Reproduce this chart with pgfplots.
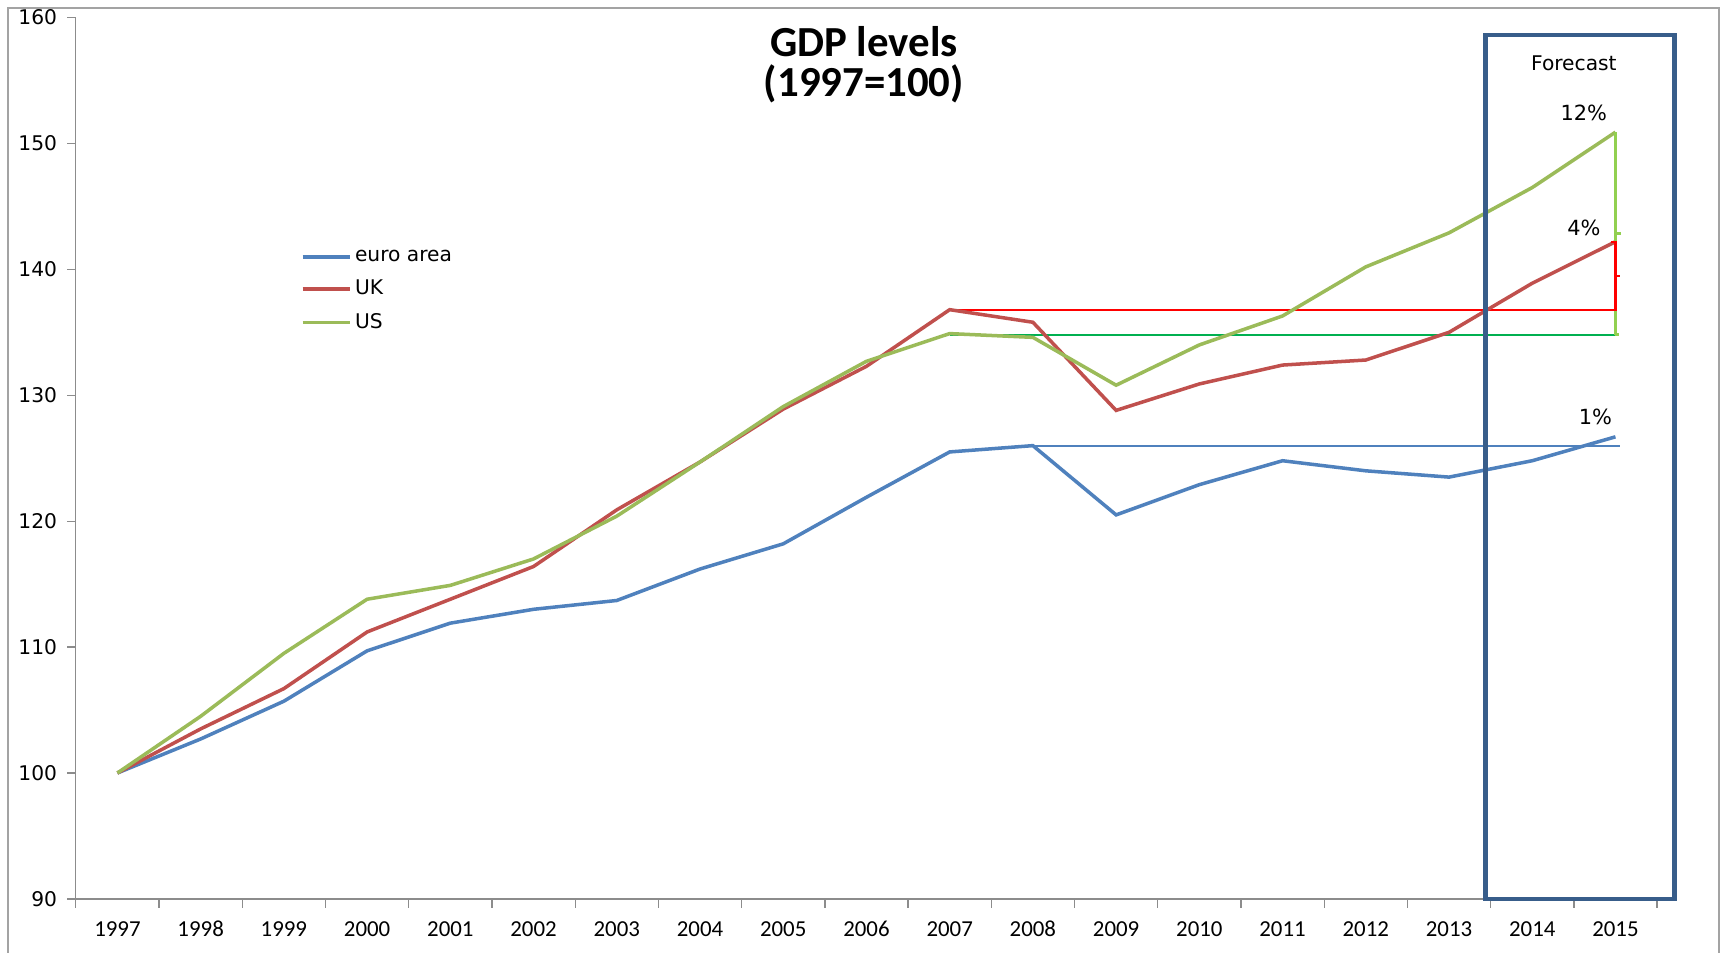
\documentclass[border=0pt]{standalone}
\usepackage{fontspec}
\setmainfont{Carlito}
\newfontfamily\dejavu{DejaVu Sans}
\usepackage{pgfplots}
\pgfplotsset{compat=1.18}
\definecolor{euro}{HTML}{4F81BD}
\definecolor{uk}{HTML}{C0504D}
\definecolor{us}{HTML}{9BBB59}
\definecolor{boxblue}{HTML}{385D8A}
\definecolor{thinred}{HTML}{FF0000}
\definecolor{thingreen}{HTML}{00B050}
\definecolor{brgreen}{HTML}{92D050}
\definecolor{axgray}{HTML}{8C8C8C}
\begin{document}
\begin{tikzpicture}
\begin{axis}[
  scale only axis,
  width=719.5pt, height=401pt,
  xmin=-0.5, xmax=18.5,
  ymin=90, ymax=160,
  ytick={90,100,...,160},
  xtick={-0.5,0.5,1.5,2.5,3.5,4.5,5.5,6.5,7.5,8.5,9.5,10.5,11.5,12.5,13.5,14.5,15.5,16.5,17.5,18.5},
  xticklabels={},
  extra x ticks={0,1,...,18},
  extra x tick labels={1997,1998,1999,2000,2001,2002,2003,2004,2005,2006,2007,2008,2009,2010,2011,2012,2013,2014,2015},
  extra x tick style={major tick length=0pt},
  tick style={draw=axgray, line width=0.6pt},
  axis lines*=left,
  axis line style={draw=axgray, line width=0.6pt, -},
  tick align=outside,
  major tick length=4pt,
  /pgf/number format/assume math mode=true,
  x tick label style={font=\fontsize{10.4}{12}\selectfont, anchor=base, text height=7pt, text depth=0pt, yshift=-17pt},
  y tick label style={font=\dejavu\fontsize{9.2}{11}\selectfont, xshift=-1pt},
  clip=false,
  legend style={at={(axis cs:2.2,141.85)}, anchor=north west, draw=none, fill=none,
    font=\dejavu\fontsize{9.2}{11}\selectfont, row sep=4pt, inner sep=0pt,
    nodes={inner sep=1.5pt}},
  legend cell align=left,
  legend image code/.code={\draw[#1] (0pt,0pt) -- (21.5pt,0pt);},
]
% reference lines
\addplot[forget plot, color=euro, line width=0.8pt] coordinates {(11,126.0) (18.05,126.0)};
\addplot[forget plot, color=thinred, line width=0.8pt] coordinates {(10,136.8) (18.0,136.8)};
\addplot[forget plot, color=thingreen, line width=0.8pt] coordinates {(10,134.8) (18.0,134.8)};
% series
\addplot[color=euro, line width=1.6pt] coordinates {
(0,100) (1,102.7) (2,105.7) (3,109.7) (4,111.9) (5,113.0) (6,113.7) (7,116.2) (8,118.2) (9,121.9)
(10,125.5) (11,126.0) (12,120.5) (13,122.9) (14,124.8) (15,124.0) (16,123.5) (17,124.8) (18,126.7)};
\addlegendentry{euro area}
\addplot[color=uk, line width=1.6pt] coordinates {
(0,100) (1,103.5) (2,106.7) (3,111.2) (4,113.8) (5,116.4) (6,120.9) (7,124.7) (8,128.9) (9,132.3)
(10,136.8) (11,135.8) (12,128.8) (13,130.9) (14,132.4) (15,132.8) (16,135.0) (17,138.9) (18,142.2)};
\addlegendentry{UK}
\addplot[color=us, line width=1.6pt] coordinates {
(0,100) (1,104.5) (2,109.5) (3,113.8) (4,114.9) (5,117.0) (6,120.4) (7,124.7) (8,129.1) (9,132.7)
(10,134.9) (11,134.6) (12,130.8) (13,134.0) (14,136.3) (15,140.2) (16,142.9) (17,146.5) (18,150.9)};
\addlegendentry{US}
% brackets
\addplot[forget plot, color=brgreen, line width=1.3pt] coordinates {(18.0,134.8) (18.0,150.9)};
\draw[brgreen, line width=1.3pt] (axis cs:18.0,142.85) -- (axis cs:18.07,142.85);
\draw[brgreen, line width=1.3pt] (axis cs:18.0,134.85) -- (axis cs:18.04,134.85);
\addplot[forget plot, color=thinred, line width=1pt] coordinates {(17.95,142.2) (18.0,142.2) (18.0,136.8) (17.95,136.8)};
\draw[thinred, line width=1pt] (axis cs:18.0,139.5) -- (axis cs:18.06,139.5);
% texts
\node[font=\bfseries\fontsize{19.5}{24}\selectfont, inner sep=0pt] at (axis cs:8.97,158.1) {GDP levels};
\node[font=\bfseries\fontsize{19.5}{24}\selectfont, inner sep=0pt] at (axis cs:8.97,154.7) {(1997=100)};
\node[font=\dejavu\fontsize{9.2}{11}\selectfont] at (axis cs:17.5,156.4) {Forecast};
\node[font=\dejavu\fontsize{9.5}{11}\selectfont] at (axis cs:17.62,152.4) {12\%};
\node[font=\dejavu\fontsize{9.5}{11}\selectfont] at (axis cs:17.62,143.3) {4\%};
\node[font=\dejavu\fontsize{9.5}{11}\selectfont] at (axis cs:17.76,128.3) {1\%};
% forecast box
\draw[boxblue, line width=2pt] (axis cs:16.44,90) rectangle (axis cs:18.71,158.6);
\end{axis}
\draw[axgray!80, line width=1pt] (-31pt,-30pt) -- (-31pt,405.5pt) -- (747.5pt,405.5pt) -- (747.5pt,-30pt);
\pgfresetboundingbox
\path[use as bounding box] (-34.5pt,-24.5pt) rectangle (749.5pt,409pt);
\end{tikzpicture}
\end{document}
